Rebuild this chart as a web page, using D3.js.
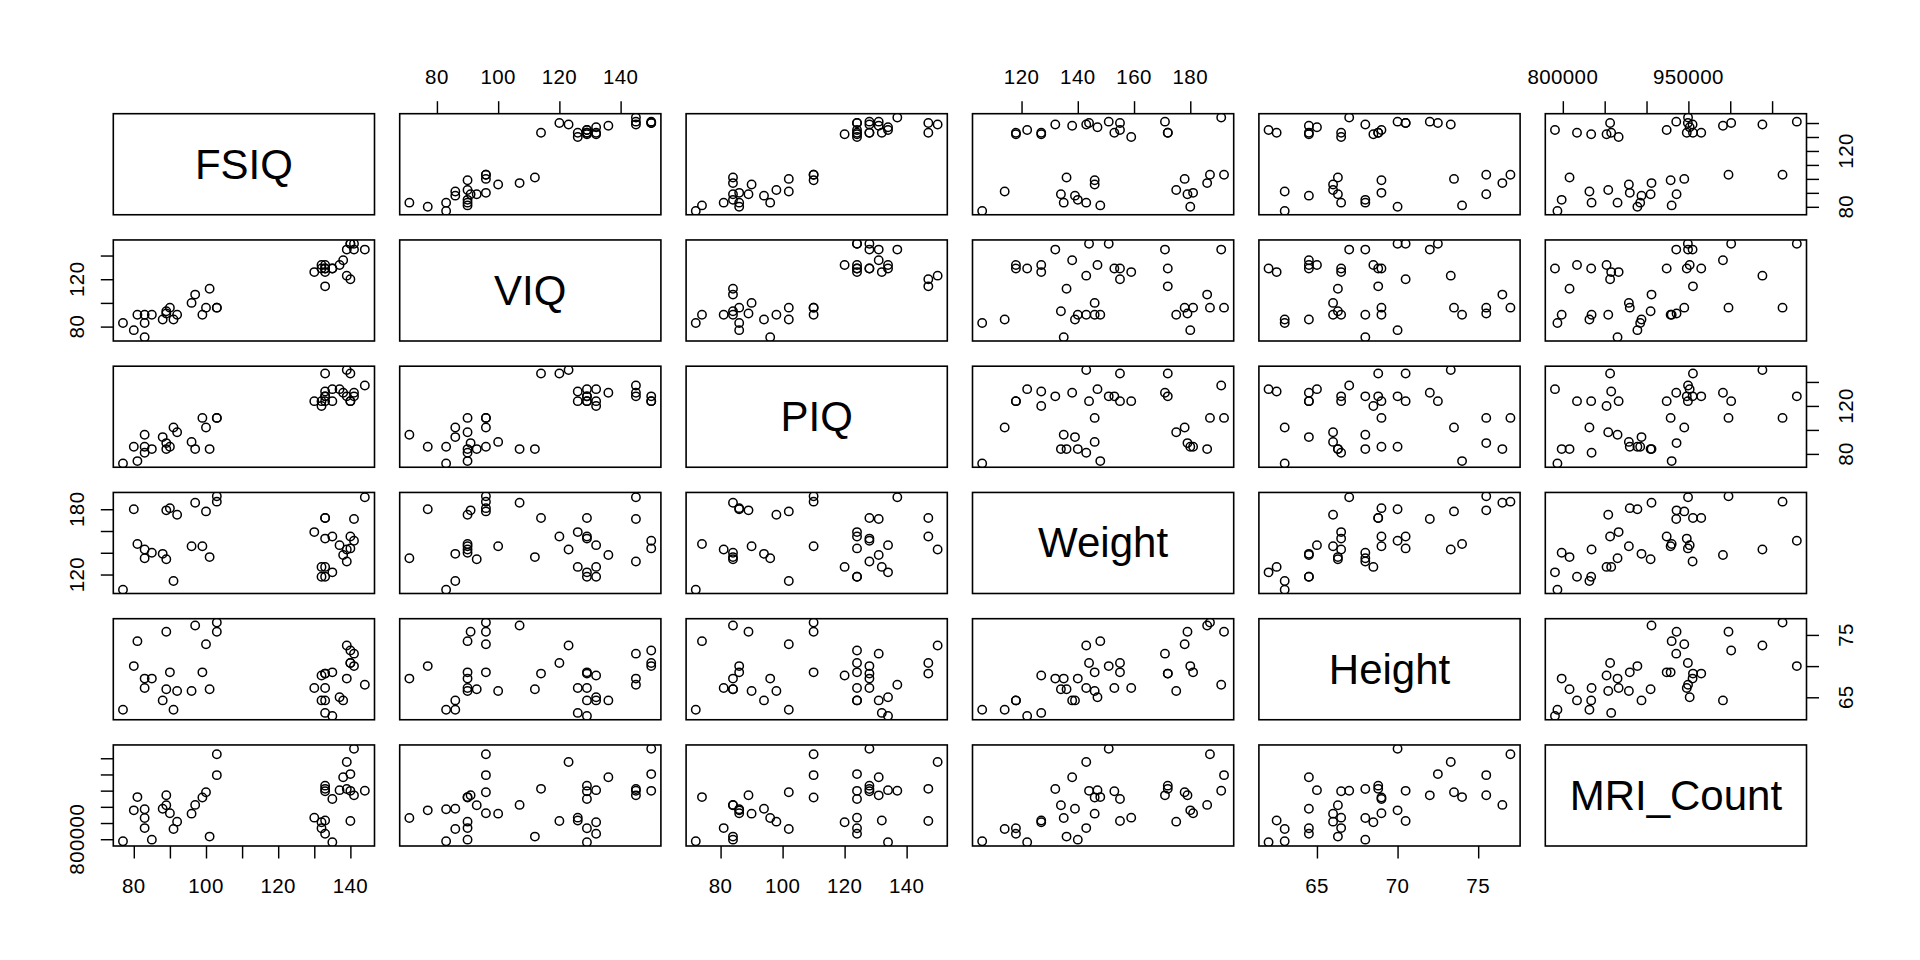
<!DOCTYPE html>
<html>
<head>
<meta charset="utf-8">
<script src="https://cdn.jsdelivr.net/npm/d3@7"></script>
<style>
  html, body { margin: 0; padding: 0; background: #ffffff; }
  svg { display: block; }
  text { font-family: "Liberation Sans", Arial, Helvetica, sans-serif; fill: #000; }
</style>
</head>
<body>
<svg id="chart" width="1920" height="960"></svg>
<script>
// ---- data (brain size / IQ data, 40 subjects; null = missing) ----
const variables = ["FSIQ", "VIQ", "PIQ", "Weight", "Height", "MRI_Count"];
const FSIQ = [133,140,139,133,137,99,138,92,89,133,132,141,135,140,96,83,132,100,101,80,83,97,135,139,91,141,85,103,77,130,133,144,103,90,83,133,140,88,81,89];
const VIQ = [132,150,123,129,132,90,136,90,93,114,129,150,129,120,100,71,132,96,112,77,83,107,129,145,86,145,90,96,83,126,126,145,96,96,90,129,150,86,90,91];
const PIQ = [124,124,150,128,134,110,131,98,84,147,124,128,124,147,90,96,120,102,84,86,86,84,134,128,102,131,84,110,72,124,132,137,110,86,81,128,124,94,74,89];
const Weight = [118,null,143,172,147,146,138,175,134,172,118,151,155,155,146,135,127,178,136,180,null,186,122,132,114,171,140,187,106,159,127,191,192,181,143,153,144,139,148,179];
const Height = [64.5,72.5,73.3,68.8,65.0,69.0,64.5,66.0,66.3,68.8,64.5,70.0,69.0,70.5,66.0,68.0,68.5,73.5,66.3,70.0,null,76.5,62.0,68.0,63.0,72.0,68.0,77.0,63.0,66.5,62.5,67.0,75.5,69.0,66.5,66.5,70.5,64.5,74.0,75.5];
const MRI_Count = [816932,1001121,1038437,965353,951545,928799,991305,854258,904858,955466,833868,1079549,924059,856472,878897,865363,852244,945088,808020,889083,892420,905940,790619,955003,831772,935494,798612,1062462,793549,866662,857782,949589,997925,879987,834344,948066,949395,893983,930016,935863];

// tick positions per variable
const FSIQ_ticks = [80,90,100,110,120,130,140];
const VIQ_ticks = [80,100,120,140];
const PIQ_ticks = [80,100,120,140];
const Weight_ticks = [120,140,160,180];
const Height_ticks = [65,70,75];
const MRI_ticks = [800000,850000,900000,950000,1000000,1050000];

// tick labels actually printed (horizontal axes / vertical axes)
const FSIQ_labels_h = [80,100,120,140];
const FSIQ_labels_v = [80,120];
const VIQ_labels_h = [80,100,120,140];
const VIQ_labels_v = [80,120];
const PIQ_labels_h = [80,100,120,140];
const PIQ_labels_v = [80,120];
const Weight_labels_h = [120,140,160,180];
const Weight_labels_v = [120,180];
const Height_labels_h = [65,70,75];
const Height_labels_v = [65,75];
const MRI_labels_h = [800000,950000];
const MRI_labels_v = [800000];

const columns = [FSIQ, VIQ, PIQ, Weight, Height, MRI_Count];
const tickSets = [FSIQ_ticks, VIQ_ticks, PIQ_ticks, Weight_ticks, Height_ticks, MRI_ticks];
const labelsH = [FSIQ_labels_h, VIQ_labels_h, PIQ_labels_h, Weight_labels_h, Height_labels_h, MRI_labels_h];
const labelsV = [FSIQ_labels_v, VIQ_labels_v, PIQ_labels_v, Weight_labels_v, Height_labels_v, MRI_labels_v];

// ---- layout ----
const svg = d3.select("#chart");
const n = variables.length;
const left0 = 113.3, top0 = 113.7;
const pw = 261.2, ph = 101.05, gap = 25.2;
const tickLen = 12.5;
const tickFont = 20.5, diagFont = 42;
const fmt = d3.format("d");

function extent4(arr) {
  const v = arr.filter(d => d !== null);
  const lo = d3.min(v), hi = d3.max(v), r = hi - lo;
  return [lo - 0.04 * r, hi + 0.04 * r];
}
const domains = columns.map(extent4);

const defs = svg.append("defs");

function tickText(sel) {
  sel.attr("text-anchor", "middle").attr("dominant-baseline", "central")
    .style("font-size", tickFont + "px").style("letter-spacing", "0.4px").text(fmt);
}

for (let i = 0; i < n; i++) {        // row -> y variable
  for (let j = 0; j < n; j++) {      // column -> x variable
    const x0 = left0 + j * (pw + gap);
    const y0 = top0 + i * (ph + gap);
    const g = svg.append("g");
    const xs = d3.scaleLinear().domain(domains[j]).range([x0, x0 + pw]);
    const ys = d3.scaleLinear().domain(domains[i]).range([y0 + ph, y0]);

    if (i === j) {
      g.append("text")
        .attr("x", x0 + pw / 2).attr("y", y0 + ph / 2)
        .attr("text-anchor", "middle").attr("dominant-baseline", "central")
        .style("font-size", diagFont + "px")
        .text(variables[i]);
    } else {
      const cid = "clip-" + i + "-" + j;
      defs.append("clipPath").attr("id", cid)
        .append("rect").attr("x", x0).attr("y", y0).attr("width", pw).attr("height", ph);
      const pts = d3.range(columns[0].length)
        .filter(k => columns[j][k] !== null && columns[i][k] !== null);
      g.append("g").attr("clip-path", "url(#" + cid + ")")
        .selectAll("circle").data(pts).join("circle")
        .attr("cx", k => xs(columns[j][k]))
        .attr("cy", k => ys(columns[i][k]))
        .attr("r", 4.2)
        .attr("fill", "none").attr("stroke", "#000").attr("stroke-width", 1.5);
    }

    // panel box
    g.append("rect").attr("x", x0).attr("y", y0).attr("width", pw).attr("height", ph)
      .attr("fill", "none").attr("stroke", "#000").attr("stroke-width", 1.6);

    // axes
    const makeAxis = (axisFn, scale, ticks, translate) => {
      const a = axisFn(scale).tickValues(ticks).tickSize(tickLen).tickSizeOuter(0).tickFormat("");
      const ag = svg.append("g").attr("transform", translate).call(a);
      ag.select(".domain").remove();
      ag.selectAll(".tick line").attr("stroke", "#000").attr("stroke-width", 1.45);
      return ag;
    };
    if (i === 0 && j % 2 === 1) {              // top axis
      makeAxis(d3.axisTop, xs, tickSets[j], `translate(0,${y0})`);
      svg.append("g").selectAll("text").data(labelsH[j]).join("text")
        .attr("x", d => xs(d)).attr("y", y0 - 37).call(tickText);
    }
    if (i === n - 1 && j % 2 === 0) {          // bottom axis
      makeAxis(d3.axisBottom, xs, tickSets[j], `translate(0,${y0 + ph})`);
      svg.append("g").selectAll("text").data(labelsH[j]).join("text")
        .attr("x", d => xs(d)).attr("y", y0 + ph + 39.7).call(tickText);
    }
    if (j === 0 && i % 2 === 1) {              // left axis
      makeAxis(d3.axisLeft, ys, tickSets[i], `translate(${x0},0)`);
      svg.append("g").selectAll("text").data(labelsV[i]).join("text")
        .attr("transform", d => `translate(${x0 - 36.6},${ys(d)}) rotate(-90)`).call(tickText);
    }
    if (j === n - 1 && i % 2 === 0) {          // right axis
      makeAxis(d3.axisRight, ys, tickSets[i], `translate(${x0 + pw},0)`);
      svg.append("g").selectAll("text").data(labelsV[i]).join("text")
        .attr("transform", d => `translate(${x0 + pw + 39.3},${ys(d)}) rotate(-90)`).call(tickText);
    }
  }
}
</script>
</body>
</html>
